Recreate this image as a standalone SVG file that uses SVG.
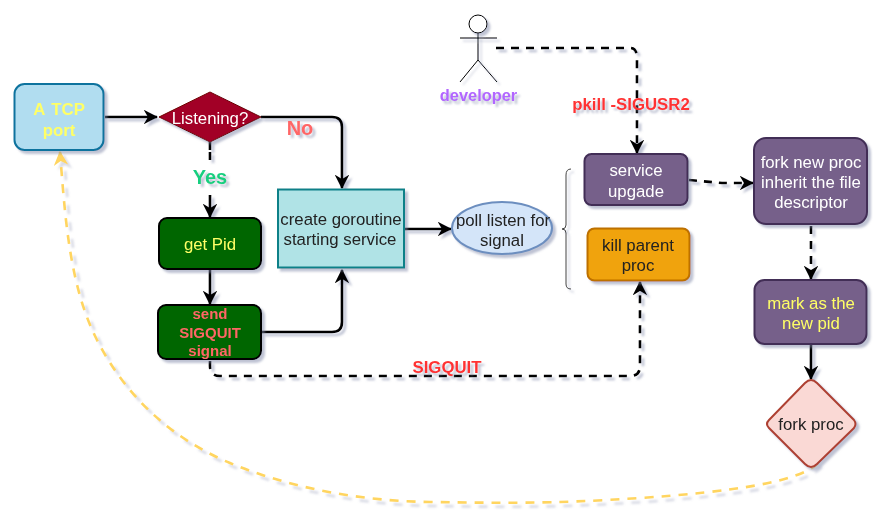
<svg xmlns="http://www.w3.org/2000/svg" width="887" height="522" viewBox="0 0 887 522">
  <style>
    text { font-family: "Liberation Sans", Arial, sans-serif; font-size: 16.800px; text-anchor: middle; }
    .b { font-weight: bold; }
    .edge { fill: none; stroke: #000; stroke-width: 2.6; stroke-linejoin: round; }
    .dash { stroke-dasharray: 8 7; }
    .thin { stroke-width: 1; stroke: #000; fill: none; }
    .white { fill: #fff; }
    .yellow { fill: #ffff66; }
    .dark { fill: #222; }
  </style>
  <defs>
    <filter id="shade" x="-20%" y="-20%" width="140%" height="140%">
      <feDropShadow dx="3" dy="3" stdDeviation="1.3" flood-color="#7f86a8" flood-opacity="0.5"/>
    </filter>
    <filter id="shadeSoft" x="-10%" y="-10%" width="120%" height="120%">
      <feDropShadow dx="4" dy="4" stdDeviation="1.200" flood-color="#7f86a8" flood-opacity="0.3"/>
    </filter>
    <marker id="head" viewBox="0 0 12 12" refX="11" refY="6" markerWidth="5.6" markerHeight="5.6" markerUnits="strokeWidth" orient="auto">
      <path d="M0 0L12 6L0 12L3.5 6Z" fill="#000"/>
    </marker>
    <marker id="headY" viewBox="0 0 12 12" refX="11" refY="6" markerWidth="5.6" markerHeight="5.6" markerUnits="strokeWidth" orient="auto">
      <path d="M0 0L12 6L0 12L3.5 6Z" fill="#ffd560"/>
    </marker>
  </defs>

  <!-- connectors -->
  <g id="connectors">
    <g filter="url(#shade)">
      <path class="edge" d="M105 117H157" marker-end="url(#head)"/>
      <path class="edge" d="M261 117H332Q342 117 342 127V188" marker-end="url(#head)"/>
      <path class="edge" d="M210 142V150M210 152V160M210 195V217" marker-end="url(#head)"/>
      <path class="edge" d="M210 269V304" marker-end="url(#head)"/>
      <path class="edge" d="M262 332H332Q342 332 342 322V270" marker-end="url(#head)"/>
      <path class="edge" d="M405 229H451" marker-end="url(#head)"/>
      <path class="edge dash" d="M210 361V366Q210 376 220 376H630Q640 376 640 366V282" marker-end="url(#head)"/>
      <path class="edge dash" d="M496 48H630Q637 48 637 58V153" marker-end="url(#head)"/>
      <path class="edge dash" d="M689 180L722 183H753" marker-end="url(#head)"/>
      <path class="edge dash" d="M811 226V279" marker-end="url(#head)"/>
      <path class="edge" d="M811 345V379" marker-end="url(#head)"/>
      <path d="M571 169Q566 169 566 175V225Q566 229 562 229Q566 229 566 233V284Q566 289 571 289" fill="none" stroke="#444" stroke-width="1"/>
    </g>
    <path class="edge" filter="url(#shadeSoft)" d="M818 463C800 482 730 492 640 498S500 503 430 502S290 488 230 463S125 395 97 340S65 215 60 152" style="stroke:#ffd560;stroke-dasharray:9 8" marker-end="url(#headY)"/>
  </g>

  <g id="node-tcp" filter="url(#shade)">
    <rect x="14.500" y="84" width="89" height="66" rx="10" fill="#b1ddf0" stroke="#10739e" stroke-width="2"/>
    <text class="b yellow" x="59" y="115" style="word-spacing:2px">A TCP</text>
    <text class="b yellow" x="59" y="136">port</text>
  </g>
  <g id="node-listening" filter="url(#shade)">
    <path d="M159 117L210 92L261 117L210 142Z" fill="#a20025" stroke="#6f0000" stroke-width="1"/>
    <text class="white" x="210" y="124">Listening?</text>
  </g>
  <g id="node-getpid" filter="url(#shade)">
    <rect x="159" y="218" width="102" height="51" rx="8" fill="#006600" stroke="#000" stroke-width="2"/>
    <text class="yellow" x="210" y="250">get Pid</text>
  </g>
  <g id="node-send" filter="url(#shade)">
    <rect x="158" y="305" width="103" height="54" rx="8" fill="#006600" stroke="#000" stroke-width="2"/>
    <text class="b" fill="#ff6666" x="210" y="319" style="font-size:15px">send</text>
    <text class="b" fill="#ff6666" x="210" y="338" style="font-size:15px">SIGQUIT</text>
    <text class="b" fill="#ff6666" x="210" y="356" style="font-size:15px">signal</text>
  </g>
  <g id="node-goroutine" filter="url(#shade)">
    <rect x="278" y="189.500" width="126" height="78" fill="#b0e3e6" stroke="#0e8088" stroke-width="2"/>
    <text class="dark" x="341" y="225">create goroutine</text>
    <text class="dark" x="340" y="245">starting service</text>
  </g>
  <g id="node-poll" filter="url(#shade)">
    <ellipse cx="502" cy="228" rx="50" ry="26" fill="#d4e5f9" stroke="#6c8ebf" stroke-width="2"/>
    <text class="dark" x="503" y="226">poll listen for</text>
    <text class="dark" x="502" y="246">signal</text>
  </g>
  <g id="node-developer" filter="url(#shade)">
    <circle cx="478" cy="24" r="9" fill="#fff" stroke="#000" stroke-width="1"/>
    <path class="thin" d="M478 33V60M460 38H497M478 60L460 82M478 60L497 82"/>
    <text class="b" fill="#b266ff" x="478.500" y="101" style="font-size:16.400px">developer</text>
  </g>
  <g id="node-upgrade" filter="url(#shade)">
    <rect x="584.500" y="154" width="103" height="51" rx="7" fill="#76608a" stroke="#432d57" stroke-width="2"/>
    <text class="white" x="636" y="176">service</text>
    <text class="white" x="636" y="197">upgade</text>
  </g>
  <g id="node-kill" filter="url(#shade)">
    <rect x="587.500" y="228.500" width="102" height="52" rx="7" fill="#f0a30a" stroke="#bd7000" stroke-width="2"/>
    <text class="dark" x="638" y="251">kill parent</text>
    <text class="dark" x="638" y="271">proc</text>
  </g>
  <g id="node-fork-new" filter="url(#shade)">
    <rect x="754" y="138" width="113" height="86" rx="12" fill="#76608a" stroke="#432d57" stroke-width="2"/>
    <text class="white" x="811" y="168">fork new proc</text>
    <text class="white" x="811" y="188">inherit the file</text>
    <text class="white" x="811" y="208">descriptor</text>
  </g>
  <g id="node-mark" filter="url(#shade)">
    <rect x="754.500" y="280" width="112" height="64" rx="10" fill="#76608a" stroke="#432d57" stroke-width="2"/>
    <text class="yellow" x="811" y="309">mark as the</text>
    <text class="yellow" x="811" y="329">new pid</text>
  </g>
  <g id="node-fork" filter="url(#shade)">
    <path d="M805 383Q811 377 817 383L854 420Q857 424 854 428L817 464Q811 470 805 464L769 428Q765 424 769 420Z" fill="#fad9d5" stroke="#ae4132" stroke-width="2"/>
    <text class="dark" x="811" y="430">fork proc</text>
  </g>

  <!-- connector labels -->
  <g id="labels" filter="url(#shade)">
    <text class="b" fill="#ff6666" x="300" y="135" style="font-size:20px">No</text>
    <text class="b" fill="#19cf7f" x="210" y="184" style="font-size:20px">Yes</text>
    <text class="b" fill="#ff3333" x="631" y="110">pkill -SIGUSR2</text>
    <text class="b" fill="#ff3333" x="447" y="373">SIGQUIT</text>
  </g>
</svg>
